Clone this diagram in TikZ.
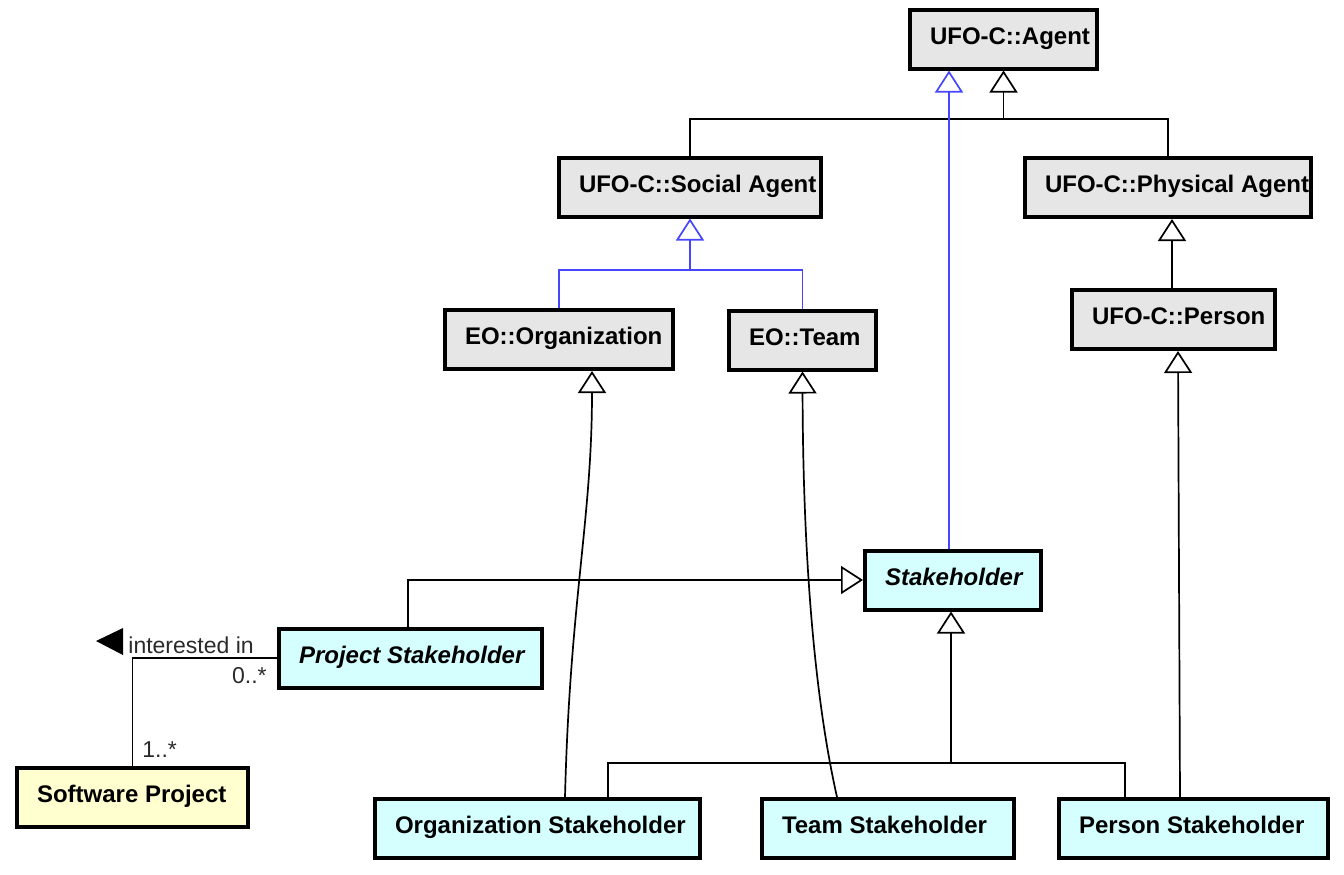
\documentclass[tikz,border=0pt]{standalone}
\usepackage{fontspec}
\setmainfont{Liberation Sans}
\usetikzlibrary{arrows.meta,calc}
\definecolor{boxgray}{HTML}{E6E6E6}
\definecolor{boxcyan}{HTML}{D5FFFF}
\definecolor{boxyellow}{HTML}{FFFFD0}
\definecolor{genblue}{RGB}{70,70,255}
\definecolor{labelgray}{HTML}{2A2A2A}
% box text: left aligned, 20px padding inside the border, may overflow to the right
\newcommand{\bxt}[2]{\makebox[\dimexpr #1pt/2-2pt\relax][l]{\hspace{10pt}#2}}
\tikzset{
  umlbox/.style={draw, line width=2pt, inner sep=0pt, minimum height=29.5pt,
    text height=8.6pt, text depth=3.5pt,
    font=\fontsize{12pt}{14pt}\selectfont\bfseries},
  ufobox/.style={umlbox, fill=boxgray},
  cyanbox/.style={umlbox, fill=boxcyan},
  yellowbox/.style={umlbox, fill=boxyellow},
  conn/.style={line width=0.85pt, draw=black},
  gen/.style={conn, -{Triangle[open, length=11pt, width=14pt]}},
  bconn/.style={line width=0.85pt, draw=genblue},
  bgen/.style={bconn, -{Triangle[open, length=11pt, width=14pt]}},
  lab/.style={inner sep=0pt, text=labelgray, font=\fontsize{11.5pt}{13pt}\selectfont}
}
\begin{document}
\begin{tikzpicture}[x=0.5pt,y=-0.5pt]
\useasboundingbox (0,0) rectangle (1344,874);

% nodes
\node[ufobox] (agent) at (1003.5,39) {\bxt{191}{UFO-C::Agent}};
\node[ufobox] (social) at (690,187) {\bxt{266}{UFO-C::Social Agent}};
\node[ufobox] (physical) at (1168,187.5) {\bxt{290}{UFO-C::Physical Agent}};
\node[ufobox] (org) at (559,339.5) {\bxt{232}{EO::Organization}};
\node[ufobox] (team) at (802.5,340) {\bxt{151}{EO::Team}};
\node[ufobox] (person) at (1173.5,319.5) {\bxt{207}{UFO-C::Person}};
\node[cyanbox] (stake) at (953,580) {\bxt{180}{\itshape Stakeholder}};
\node[cyanbox] (projstake) at (410.5,658) {\bxt{267}{\itshape Project Stakeholder}};
\node[yellowbox] (softproj) at (132.5,797) {\bxt{235}{Software Project}};
\node[cyanbox] (orgstake) at (537.5,828.5) {\bxt{329}{Organization Stakeholder}};
\node[cyanbox] (teamstake) at (888,828.5) {\bxt{256}{Team Stakeholder}};
\node[cyanbox] (personstake) at (1193.5,828.5) {\bxt{273}{Person Stakeholder}};

% junction points
\coordinate (jA) at (1003.5,119);
\coordinate (jB) at (690,270);
\coordinate (jC) at (951,763);

% Social / Physical Agent -> Agent
\draw[conn] (social.north) |- (jA) -| (physical.north);
\draw[gen] (jA) -- (agent.south);

% Stakeholder -> Agent (blue)
\draw[bgen] ($(stake.north)+(-4,0)$) -- ($(agent.south)+(-54.5,0)$);

% Organization / Team -> Social Agent (blue)
\draw[bconn] (org.north) |- (jB) -| (team.north);
\draw[bgen] (jB) -- (social.south);

% Person -> Physical Agent
\draw[gen] ($(person.north)+(-1.5,0)$) -- ($(physical.south)+(4,0)$);

% Person Stakeholder -> Person
\draw[gen] ($(personstake.north)+(-13.5,0)$) -- ($(person.south)+(4.5,0)$);

% Organization Stakeholder -> Organization
\draw[gen] ($(orgstake.north)+(27.5,0)$) .. controls (570,600) and (592,520) .. ($(org.south)+(33,0)$);

% Team Stakeholder -> Team
\draw[gen] ($(teamstake.north)+(-51,0)$) .. controls (815,700) and (803,560) .. (team.south);

% Org / Team / Person Stakeholder -> Stakeholder
\draw[conn] ($(orgstake.north)+(70.5,0)$) |- (jC) -| ($(personstake.north)+(-68.5,0)$);
\draw[conn] ($(teamstake.north)+(-2,0)$) -- ($(teamstake.north)+(-2,0)$ |- jC);
\draw[gen] (jC) -- ($(stake.south)+(-2,0)$);

% Project Stakeholder -> Stakeholder
\draw[gen] ($(projstake.north)+(-2.5,0)$) |- (stake.west);

% association
\draw[conn] (softproj.north) |- (projstake.west);
\node[lab, anchor=base west] (lint) at (128,653) {interested in};
\fill[black] (96,641) -- (123,628) -- (123,655) -- cycle;
\node[lab, anchor=base east] (lzero) at (267,683) {0..*};
\node[lab, anchor=base west] (lone) at (142,757) {1..*};
\end{tikzpicture}
\end{document}
